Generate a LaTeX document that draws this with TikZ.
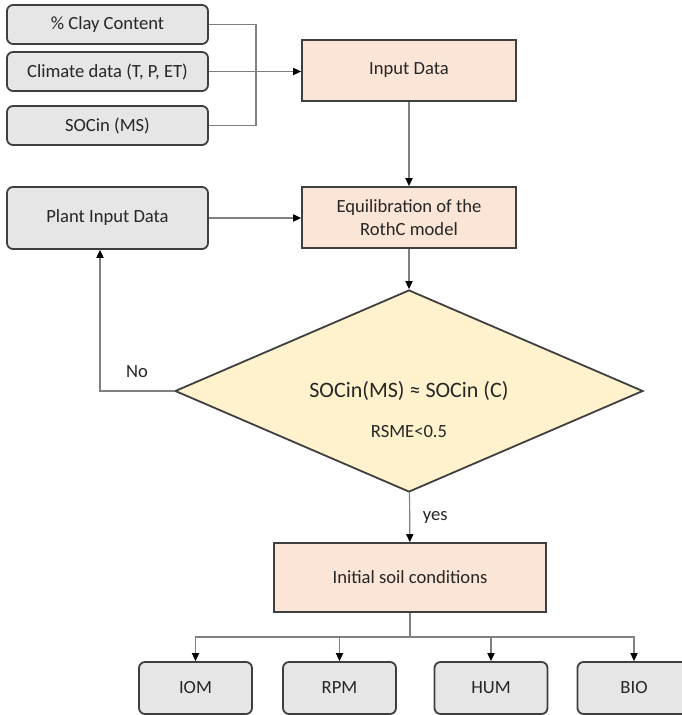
\documentclass[tikz,border=0pt]{standalone}
\usepackage{fontspec}
\setmainfont{Carlito}
\usetikzlibrary{
  shapes.geometric,
  arrows.meta,
  positioning
}
\definecolor{datagray}{HTML}{E7E6E6}
\definecolor{edgegray}{HTML}{3F3F3F}
\definecolor{linegray}{HTML}{808080}
\definecolor{stepbg}{HTML}{FBE5D6}
\definecolor{checkbg}{HTML}{FFF2CC}

\begin{document}
\begin{tikzpicture}[
    x=0.5pt, y=-0.5pt,
    every node/.style={font=\fontsize{9.3}{11.5}\selectfont, text=black!85},
    datain/.style={
      rectangle, draw=edgegray, line width=0.9pt, rounded corners=3pt,
      minimum width=100.5pt, minimum height=19.5pt,
      inner sep=0pt, fill=datagray
    },
    process/.style={
      rectangle, draw=edgegray, line width=0.9pt,
      minimum width=107pt, minimum height=30.5pt,
      inner sep=0pt, align=center, fill=stepbg
    },
    decision/.style={
      diamond, draw=edgegray, line width=0.9pt,
      minimum width=234pt, minimum height=101pt,
      inner sep=0pt, aspect=2.3, fill=checkbg
    },
    pool/.style={datain, minimum width=56.5pt, minimum height=26pt},
    arrow/.style={draw=linegray, line width=0.6pt,
      -{Triangle[length=4pt, width=3.6pt, color=black]}},
    link/.style={draw=linegray, line width=0.6pt},
  ]

  \useasboundingbox (0,0) rectangle (681,715);

  % --- Input boxes ---
  \node[datain] (clay) at (107.5,24.5) {\% Clay Content};
  \node[datain] (climate) at (107.5,71.5) {Climate data (T, P, ET)};
  \node[datain] (socms) at (107.5,125.5) {SOCin (MS)};
  \node[datain, minimum height=31pt] (plant) at (107.5,218) {Plant Input Data};

  % --- Main chain ---
  \node[process] (input) at (409,70.5) {Input Data};
  \node[process] (equil) at (409,217.5)
    {Equilibration of the\\RothC model};

  \node[decision, font=\fontsize{11}{13}\selectfont] (check) at (409,391)
    {SOCin(MS) ≈ SOCin (C)};
  \node (rsme) at ([yshift=-20.5pt]check.center) {RSME<0.5};

  \node[process, minimum width=136pt, minimum height=34.5pt] (initial)
    at (410,577.5) {Initial soil conditions};

  % --- Pools ---
  \node[pool] (iom) at (195.5,688) {IOM};
  \node[pool] (rpm) at (339.5,688) {RPM};
  \node[pool] (hum) at (491,688) {HUM};
  \node[pool] (bio) at (634,688) {BIO};

  \coordinate (merge) at (256,71.5);
  \coordinate (noturn) at (100,391);
  \coordinate (split) at (410,637);

  % --- Arrows ---
  \draw[link] (clay.east) -| (merge);
  \draw[link] (socms.east) -| (merge);
  \draw[arrow] (climate.east) -- (climate.east -| input.west);

  \draw[arrow] (input) -- (equil);
  \draw[arrow] (plant.east) -- (plant.east -| equil.west);
  \draw[arrow] (equil) -- (check);

  \draw[arrow] (check.west) -- node[above=3pt] {No} (noturn)
    -- (plant.south -| noturn);

  \draw[arrow] (check) -- node[right=3pt] {yes} (initial);

  \draw[link] (initial) -- (split);
  \foreach \p in {iom,rpm,hum,bio}
    \draw[arrow] (split) -| (\p);

\end{tikzpicture}
\end{document}
